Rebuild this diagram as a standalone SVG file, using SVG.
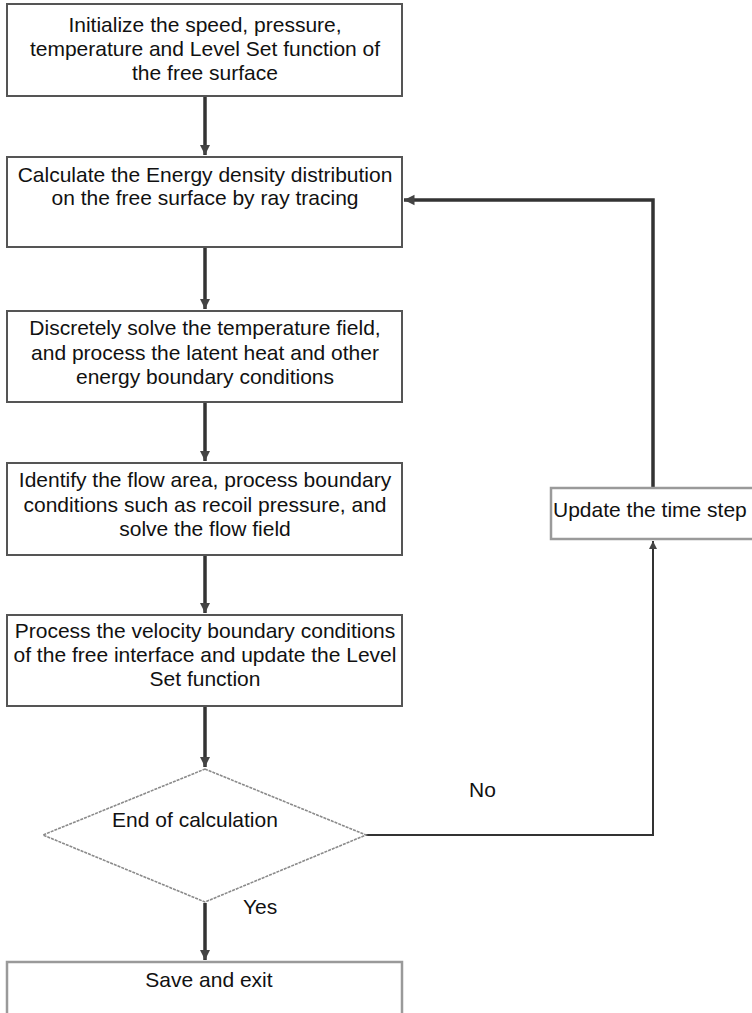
<svg xmlns="http://www.w3.org/2000/svg" width="752" height="1013" viewBox="0 0 752 1013">
  <style>
    .box { fill: #ffffff; stroke: #555555; stroke-width: 2; }
    .box-light { fill: #ffffff; stroke: #9a9a9a; stroke-width: 2.5; }
    .decision { fill: #ffffff; stroke: #8a8a8a; stroke-width: 1.6; stroke-dasharray: 3 1; }
    .label { font-family: "Liberation Sans", Arial, sans-serif; font-size: 21px; fill: #111111; text-anchor: middle; }
    .tag { font-family: "Liberation Sans", Arial, sans-serif; font-size: 21px; fill: #111111; }
    .flow { fill: none; stroke: #333333; stroke-width: 3.5; }
    .flow-thin { fill: none; stroke: #333333; stroke-width: 2; }
  </style>
  <defs>
    <marker id="arrow" viewBox="0 0 10 10" refX="10" refY="5" markerWidth="3" markerHeight="3.2" orient="auto" markerUnits="strokeWidth">
      <path d="M0,0 L10,5 L0,10 Z" fill="#444444"/>
    </marker>
    <marker id="arrow-thin" viewBox="0 0 10 10" refX="10" refY="5" markerWidth="4.5" markerHeight="4" orient="auto" markerUnits="strokeWidth">
      <path d="M0,0 L10,5 L0,10 Z" fill="#444444"/>
    </marker>
  </defs>

  <rect width="752" height="1013" fill="#ffffff"/>

  <!-- connectors -->
  <g id="connectors">
    <line class="flow" x1="205" y1="97" x2="205" y2="155" marker-end="url(#arrow)"/>
    <line class="flow" x1="205" y1="248" x2="205" y2="309" marker-end="url(#arrow)"/>
    <line class="flow" x1="205" y1="403" x2="205" y2="461" marker-end="url(#arrow)"/>
    <line class="flow" x1="205" y1="556" x2="205" y2="613" marker-end="url(#arrow)"/>
    <line class="flow" x1="205" y1="707" x2="205" y2="767" marker-end="url(#arrow)"/>
    <line class="flow" x1="205" y1="903" x2="205" y2="960" marker-end="url(#arrow)"/>
    <!-- "No" branch back up to the time step box -->
    <polyline class="flow-thin" points="366,835 653,835 653,541" marker-end="url(#arrow-thin)"/>
    <!-- loop back to the energy density step -->
    <polyline class="flow" points="653,487 653,200 404,200" marker-end="url(#arrow)"/>
    <text class="tag" x="469" y="797">No</text>
    <text class="tag" x="243" y="914">Yes</text>
  </g>

  <g id="init">
    <rect class="box" x="7" y="4" width="395" height="92"/>
    <text class="label" x="205" y="32">Initialize the speed, pressure,</text>
    <text class="label" x="205" y="56">temperature and Level Set function of</text>
    <text class="label" x="205" y="80">the free surface</text>
  </g>

  <g id="energy">
    <rect class="box" x="7" y="157" width="395" height="90"/>
    <text class="label" x="205" y="182">Calculate the Energy density distribution</text>
    <text class="label" x="205" y="205">on the free surface by ray tracing</text>
  </g>

  <g id="temperature">
    <rect class="box" x="7" y="311" width="395" height="91"/>
    <text class="label" x="205" y="335">Discretely solve the temperature field,</text>
    <text class="label" x="205" y="360">and process the latent heat and other</text>
    <text class="label" x="205" y="384">energy boundary conditions</text>
  </g>

  <g id="flowfield">
    <rect class="box" x="7" y="463" width="395" height="92"/>
    <text class="label" x="205" y="487">Identify the flow area, process boundary</text>
    <text class="label" x="205" y="512">conditions such as recoil pressure, and</text>
    <text class="label" x="205" y="536">solve the flow field</text>
  </g>

  <g id="levelset">
    <rect class="box" x="7" y="615" width="395" height="91"/>
    <text class="label" x="205" y="638">Process the velocity boundary conditions</text>
    <text class="label" x="205" y="662">of the free interface and update the Level</text>
    <text class="label" x="205" y="686">Set function</text>
  </g>

  <g id="decision">
    <polygon class="decision" points="205,769 366,835 205,902 43,835"/>
    <text class="label" x="195" y="827">End of calculation</text>
  </g>

  <g id="save">
    <rect class="box-light" x="7" y="962" width="395" height="60"/>
    <text class="label" x="209" y="987">Save and exit</text>
  </g>

  <g id="timestep">
    <rect class="box-light" x="551" y="488" width="215" height="51"/>
    <text class="tag" x="553" y="517">Update the time step</text>
  </g>
</svg>
